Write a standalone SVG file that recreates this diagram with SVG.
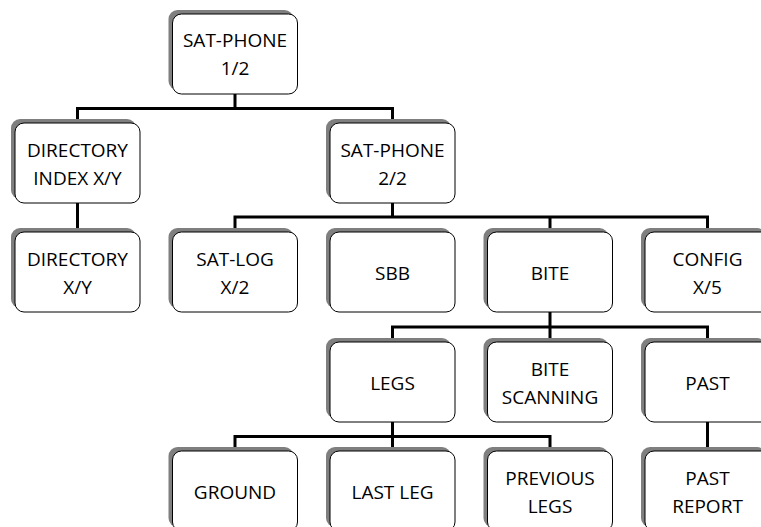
<svg xmlns="http://www.w3.org/2000/svg" width="761" height="527" viewBox="0 0 761 527">
<style>
.sh{fill:#7f7f7f}
.bx{fill:#ffffff;stroke:#000000;stroke-width:1}
.t{font-family:"Open Sans","Liberation Sans",sans-serif;font-size:19px;fill:#000000;text-anchor:middle}
.c{fill:none;stroke:#000000;stroke-width:3}
</style>
<defs>
<g id="box">
<rect class="sh" x="-4" y="-4" width="125" height="80" rx="9"/>
<rect class="bx" x="0" y="0" width="125" height="80" rx="9"/>
</g>
</defs>
<rect width="761" height="527" fill="#ffffff"/>
<g id="connectors">
<path class="c" d="M235 94V108.5M77.5 123V108.5H392.5V123"/>
<path class="c" d="M77.5 203V232"/>
<path class="c" d="M392.5 203V217M235 232V217H707.5V232M550 217V232"/>
<path class="c" d="M550 312V327M392.5 342V327H707.5V342M550 327V342"/>
<path class="c" d="M392.5 421V436.5M235 451V436.5H550V451M392.5 436.5V451"/>
<path class="c" d="M707.5 421V451"/>
</g>
<g id="sat-phone-1"><use href="#box" x="172.5" y="14"/><text class="t"><tspan x="235" y="47">SAT-PHONE</tspan><tspan x="235" y="75">1/2</tspan></text></g>
<g id="directory-index"><use href="#box" x="15" y="123"/><text class="t"><tspan x="77.5" y="157">DIRECTORY</tspan><tspan x="77.5" y="185">INDEX X/Y</tspan></text></g>
<g id="sat-phone-2"><use href="#box" x="330" y="123"/><text class="t"><tspan x="392.5" y="157">SAT-PHONE</tspan><tspan x="392.5" y="185">2/2</tspan></text></g>
<g id="directory"><use href="#box" x="15" y="232"/><text class="t"><tspan x="77.5" y="266">DIRECTORY</tspan><tspan x="77.5" y="294">X/Y</tspan></text></g>
<g id="sat-log"><use href="#box" x="172.5" y="232"/><text class="t"><tspan x="235" y="266">SAT-LOG</tspan><tspan x="235" y="294">X/2</tspan></text></g>
<g id="sbb"><use href="#box" x="330" y="232"/><text class="t" x="392.5" y="280">SBB</text></g>
<g id="bite"><use href="#box" x="487.5" y="232"/><text class="t" x="550" y="280">BITE</text></g>
<g id="config"><use href="#box" x="645" y="232"/><text class="t"><tspan x="707.5" y="266">CONFIG</tspan><tspan x="707.5" y="294">X/5</tspan></text></g>
<g id="legs"><use href="#box" x="330" y="342"/><text class="t" x="392.5" y="390">LEGS</text></g>
<g id="bite-scanning"><use href="#box" x="487.5" y="342"/><text class="t"><tspan x="550" y="376">BITE</tspan><tspan x="550" y="404">SCANNING</tspan></text></g>
<g id="past"><use href="#box" x="645" y="342"/><text class="t" x="707.5" y="390">PAST</text></g>
<g id="ground"><use href="#box" x="172.5" y="451"/><text class="t" x="235" y="499">GROUND</text></g>
<g id="last-leg"><use href="#box" x="330" y="451"/><text class="t" x="392.5" y="499">LAST LEG</text></g>
<g id="previous-legs"><use href="#box" x="487.5" y="451"/><text class="t"><tspan x="550" y="485">PREVIOUS</tspan><tspan x="550" y="513">LEGS</tspan></text></g>
<g id="past-report"><use href="#box" x="645" y="451"/><text class="t"><tspan x="707.5" y="485">PAST</tspan><tspan x="707.5" y="513">REPORT</tspan></text></g>
</svg>
